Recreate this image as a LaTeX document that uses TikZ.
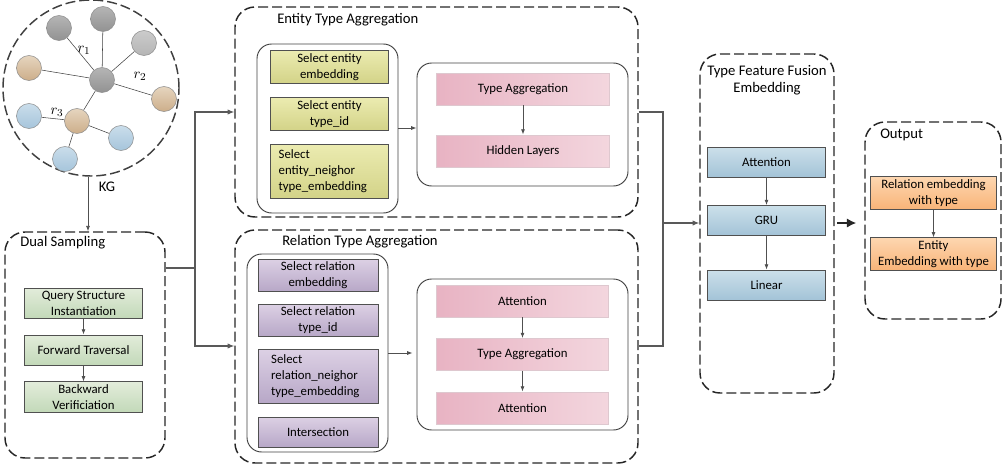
\documentclass[tikz,border=0pt]{standalone}
\usepackage{fontspec}
\setmainfont{Carlito}
\usepackage{tikz}
\usetikzlibrary{arrows.meta,shapes.geometric}
\pgfdeclarelayer{bg}
\pgfsetlayers{bg,main}

\definecolor{edgegray}{HTML}{505050}
\definecolor{greenT}{HTML}{E2ECDA}\definecolor{greenB}{HTML}{C3D9B9}
\definecolor{yellowT}{HTML}{EBEBB0}\definecolor{yellowB}{HTML}{D3D388}
\definecolor{violetT}{HTML}{DCD0E4}\definecolor{violetB}{HTML}{B7A7C7}
\definecolor{pinkL}{HTML}{E8B3C3}\definecolor{pinkR}{HTML}{F3D6DE}
\definecolor{blueT}{HTML}{CCE0EA}\definecolor{blueB}{HTML}{A3C3D7}
\definecolor{orangeT}{HTML}{FDD6B0}\definecolor{orangeB}{HTML}{F8B478}
\definecolor{grayT}{HTML}{B5B5B5}\definecolor{grayB}{HTML}{929292}
\definecolor{tanT}{HTML}{E6D5BF}\definecolor{tanB}{HTML}{CDAE8A}
\definecolor{sky T}{HTML}{CADEEB}\definecolor{sky B}{HTML}{A6C5DB}
\tikzset{
  box/.style={draw=edgegray, line width=0.6pt, inner sep=2pt, align=center,
    font=\fontsize{9.6}{12}\selectfont, minimum width=89pt, minimum height=22.5pt},
  gbox/.style={box, top color=greenT, bottom color=greenB},
  ybox/.style={box, top color=yellowT, bottom color=yellowB},
  vbox/.style={box, minimum width=90pt, top color=violetT, bottom color=violetB},
  pbox/.style={box, draw=pinkL!70!gray!60!white, minimum width=129.5pt, minimum height=24pt,
    left color=pinkL, right color=pinkR},
  bbox/.style={box, top color=blueT, bottom color=blueB},
  obox/.style={box, minimum width=95pt, top color=orangeT, bottom color=orangeB},
  group/.style={draw=black!85, line width=1.1pt, dash pattern=on 7.5pt off 3pt,
    rounded corners=15pt, inner sep=0pt},
  inner/.style={draw=black!75, line width=0.7pt, rounded corners=11pt, inner sep=0pt},
  title/.style={font=\fontsize{11}{13}\selectfont, inner sep=0pt},
  ent/.style={circle, draw=black!45, line width=0.4pt, minimum size=18.75pt, inner sep=0pt},
  gnode/.style={ent, top color=grayT, bottom color=grayB},
  tnode/.style={ent, top color=tanT, bottom color=tanB},
  bnode/.style={ent, top color=sky T, bottom color=sky B},
  arr/.style={-{Latex[length=4pt,width=3pt]}, draw=edgegray, line width=0.6pt},
  flow/.style={-{Latex[length=5pt,width=4pt]}, draw=black!65, line width=0.8pt},
}

\begin{document}
\begin{tikzpicture}[x=0.75pt, y=-0.75pt]
        \useasboundingbox (0,0) rectangle (1002,464);
        % KG
        \node (kg) [circle, draw=black!75, line width=1.1pt, dash pattern=on 7.5pt off 3pt, minimum size=132pt] at (91,88) {};
        \node (c) [gnode] at (102,80) {};
        \node (g1) [gnode] at (59,28) {};
        \node (g2) [gnode] at (103,19) {};
        \node (g3) [ent, top color=grayT!70!white, bottom color=grayT] at (144,43) {};
        \node (t1) [tnode] at (29,68) {};
        \node (t2) [tnode] at (164,99) {};
        \node (t3) [tnode] at (77,121) {};
        \node (b1) [bnode] at (29,116) {};
        \node (b2) [bnode] at (121,138) {};
        \node (b3) [bnode] at (65,159) {};
        \node (r1) [title] at (84,50) {$r_1$};
        \node (r2) [title] at (140,76) {$r_2$};
        \node (r3) [title] at (57,112) {$r_3$};
        \node (kgl) [title] at (107,187) {KG};
        \begin{pgfonlayer}{bg}
                \draw [black!75] (c) edge (g1) edge (g2) edge (g3) edge (t1) edge (t2) edge (t3);
                \draw [black!75] (t3) edge (b1) edge (b2) edge (b3);
        \end{pgfonlayer}

        % Dual Sampling
        \node (dual) [group, minimum width=120pt, minimum height=169.5pt] at (85,345) {};
        \node (dualt) [title, anchor=west] at (20,243) {Dual Sampling};
        \node (q) [gbox] at (83.5,303) {Query Structure\\Instantiation};
        \node (fw) [gbox] at (83.5,350) {Forward Traversal};
        \node (bw) [gbox] at (83.5,397) {Backward\\Verificiation};

        % Entity Type Aggregation
        \node (eta) [group, minimum width=302.25pt, minimum height=157.5pt] at (436.5,112) {};
        \node (etat) [title, anchor=west] at (277,20) {Entity Type Aggregation};
        \node (etaL) [inner, minimum width=105.75pt, minimum height=126.75pt] at (327.5,128.5) {};
        \node (etaR) [inner, minimum width=158.25pt, minimum height=92.25pt] at (522.5,124.5) {};
        \node (se1) [ybox] at (329.5,67) {Select entity\\embedding};
        \node (se2) [ybox] at (329.5,114) {Select entity\\type\_id};
        \node (se3) [ybox, minimum height=38.25pt] at (329.5,171.5) {\begin{tabular}{@{}l@{}}Select\\entity\_neighor\\type\_embedding\end{tabular}\hspace{10pt}};
        \node (ta1) [pbox] at (523,89) {Type Aggregation};
        \node (hl) [pbox] at (523,151) {Hidden Layers};

        % Relation Type Aggregation
        \node (rta) [group, minimum width=302.25pt, minimum height=174.75pt] at (436.5,346.5) {};
        \node (rtat) [title, anchor=west] at (282,242) {Relation Type Aggregation};
        \node (rtaL) [inner, minimum width=105.75pt, minimum height=148.5pt] at (317.5,353) {};
        \node (rtaR) [inner, minimum width=158.25pt, minimum height=113.25pt] at (522.5,354.5) {};
        \node (sr1) [vbox, minimum height=23pt] at (318,275.5) {Select relation\\embedding};
        \node (sr2) [vbox, minimum height=23pt] at (318,320.5) {Select relation\\type\_id};
        \node (sr3) [vbox, minimum height=38.25pt] at (318,376.5) {\begin{tabular}{@{}l@{}}Select\\relation\_neighor\\type\_embedding\end{tabular}\hspace{4pt}};
        \node (sr4) [vbox] at (318,432) {Intersection};
        \node (at1) [pbox] at (522.5,301) {Attention};
        \node (ta2) [pbox] at (522.5,354.5) {Type Aggregation};
        \node (at2) [pbox] at (522.5,408) {Attention};

        % Type Feature Fusion Embedding
        \node (fus) [group, minimum width=100.5pt, minimum height=254.25pt] at (767,223.5) {};
        \node (fust) [title, align=center] at (767,80) {Type Feature Fusion\\Embedding};
        \node (att) [bbox] at (766.5,162) {Attention};
        \node (gru) [bbox] at (766.5,220.5) {GRU};
        \node (lin) [bbox] at (766.5,285) {Linear};

        % Output
        \node (out) [group, minimum width=102pt, minimum height=147.75pt] at (933,220.5) {};
        \node (outt) [title, anchor=west] at (880,135) {Output};
        \node (o1) [obox] at (933.5,193) {Relation embedding\\with type};
        \node (o2) [obox] at (933.5,254) {Entity\\Embedding with type};

        \coordinate (split) at (195,268);
        \coordinate (j1) at (195,112);
        \coordinate (j2) at (195,346);
        \coordinate (m1) at (663,112);
        \coordinate (m2) at (663,346);
        \coordinate (m0) at (663,223);

        \draw [arr] (kg.south -| 88,0) -- (dual.north -| 88,0);
        \draw [arr] (q) -- (fw);
        \draw [arr] (fw) -- (bw);
        \draw [arr] (ta1) -- (hl);
        \draw [arr] (at1) -- (ta2);
        \draw [arr] (ta2) -- (at2);
        \draw [arr] (att) -- (gru);
        \draw [arr] (gru) -- (lin);
        \draw [arr] (o1) -- (o2);
        \draw [arr] (etaL.east |- 0,128) -- (etaR.west |- 0,128);
        \draw [arr] (rtaL.east) -- ([xshift=-3pt]rtaR.west |- rtaL.east);
        \draw [flow] (dual.east |- split) -- (split) -- (j1) -- (eta.west |- j1);
        \draw [flow] (split) -- (j2) -- (rta.west |- j2);
        \draw [black!65, line width=0.8pt] (eta.east |- m1) -- (m1) -- (m2) -- (rta.east |- m2);
        \draw [flow] (m0) -- (fus.west |- m0);
        \draw [-{Latex[length=7pt,width=7pt]}, black!85, line width=1.3pt, shorten <=2pt, shorten >=6pt] (fus.east |- m0) -- (out.west |- m0);
\end{tikzpicture}
\end{document}
